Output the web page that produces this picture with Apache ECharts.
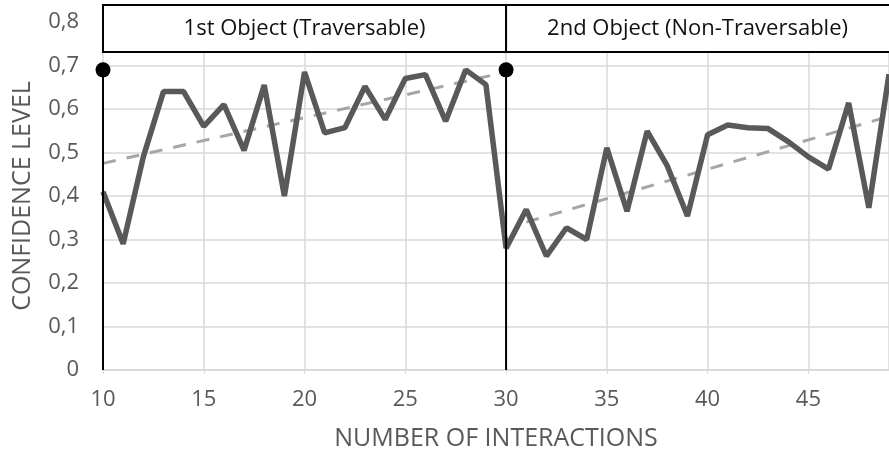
<!DOCTYPE html>
<html>
<head>
<meta charset="utf-8">
<script src="https://cdn.jsdelivr.net/npm/echarts@6/dist/echarts.min.js"></script>
<style>html,body{margin:0;padding:0;background:#fff}#c{width:889px;height:456px}</style>
</head>
<body>
<div id="c"></div>
<script>
// Data
var interactions = [10,11,12,13,14,15,16,17,18,19,20,21,22,23,24,25,26,27,28,29,30,31,32,33,34,35,36,37,38,39,40,41,42,43,44,45,46,47,48,49];
var confidence = [0.41,0.29,0.49,0.64,0.64,0.56,0.61,0.505,0.655,0.40,0.685,0.545,0.557,0.652,0.576,0.67,0.679,0.572,0.69,0.656,
                  0.28,0.369,0.262,0.327,0.30,0.511,0.365,0.549,0.469,0.354,0.541,0.563,0.557,0.555,0.525,0.49,0.462,0.614,0.373,0.68];
var trend1 = [[10,0.475],[30,0.685]];
var trend2 = [[31,0.34],[49,0.583]];
var markerX = [10, 30];
var markerTop = 0.69;
var headerLabels = ['1st Object (Traversable)', '2nd Object (Non-Traversable)'];
var headerRanges = [[10,30],[30,49]];
var yTicks = [0,0.1,0.2,0.3,0.4,0.5,0.6,0.7,0.8];

var FONT = 'Open Sans';
var chart = echarts.init(document.getElementById('c'));
var lineData = interactions.map(function(x,i){return [x, confidence[i]];});

var series = [
  {type:'line', data: trend1, symbol:'none', lineStyle:{color:'#a6a6a6', width:3, type:[13,11]}, z:2, silent:true},
  {type:'line', data: trend2, symbol:'none', lineStyle:{color:'#a6a6a6', width:3, type:[13,11]}, z:2, silent:true},
  {type:'line', data: lineData, symbol:'none', lineStyle:{color:'#595959', width:5.5}, z:3}
];
markerX.forEach(function(mx){
  series.push({type:'line', data:[{value:[mx,0],symbolSize:0},{value:[mx,markerTop],symbolSize:15}],
    symbol:'circle', showSymbol:true, itemStyle:{color:'#000'}, lineStyle:{color:'#000', width:2}, z:5, silent:true});
});

chart.setOption({
  animation:false,
  grid:{left:103, right:0, top:22, bottom:85},
  xAxis:{type:'value', min:10, max:49, interval:5,
    name:'NUMBER OF INTERACTIONS', nameLocation:'middle', nameGap:56,
    nameTextStyle:{fontFamily:FONT, fontSize:25, color:'#595959'},
    axisLine:{show:true, lineStyle:{color:'#d9d9d9', width:2}},
    axisTick:{show:true, length:4, lineStyle:{color:'#d9d9d9'}},
    axisLabel:{fontFamily:FONT, fontSize:22, color:'#595959', margin:19, showMaxLabel:false,
      formatter:function(v){return v===49?'':String(v);}},
    splitLine:{show:true, lineStyle:{color:'#d9d9d9', width:1.5}}},
  yAxis:{type:'value', min:0, max:0.8, interval:0.1,
    name:'CONFIDENCE LEVEL', nameLocation:'middle', nameGap:68,
    nameTextStyle:{fontFamily:FONT, fontSize:25, color:'#595959'},
    axisLine:{show:false}, axisTick:{show:false},
    axisLabel:{fontFamily:FONT, fontSize:22, color:'#595959', margin:24,
      formatter:function(v){var r=Math.round(v*10)/10; return r===0?'0':r.toFixed(1).replace('.',',');}},
    splitLine:{show:true, lineStyle:{color:'#d9d9d9', width:1.5}}},
  series: series
});

// Header boxes placed from the x axis scale
var graphics = [];
headerRanges.forEach(function(r,i){
  var x0 = chart.convertToPixel({xAxisIndex:0}, r[0]);
  var x1 = chart.convertToPixel({xAxisIndex:0}, r[1]);
  if (i === headerRanges.length-1) x1 = x1 + 10;
  graphics.push({type:'rect', shape:{x:x0, y:5, width:x1-x0, height:47},
    style:{fill:'#fff', stroke:'#000', lineWidth:2}, z:10});
  graphics.push({type:'text', x:(x0+Math.min(x1,889))/2, y:29,
    style:{text:headerLabels[i], fontFamily:FONT, fontSize:22, fill:'#111', align:'center', verticalAlign:'middle'}, z:11});
});
chart.setOption({graphic: graphics});
</script>
</body>
</html>
